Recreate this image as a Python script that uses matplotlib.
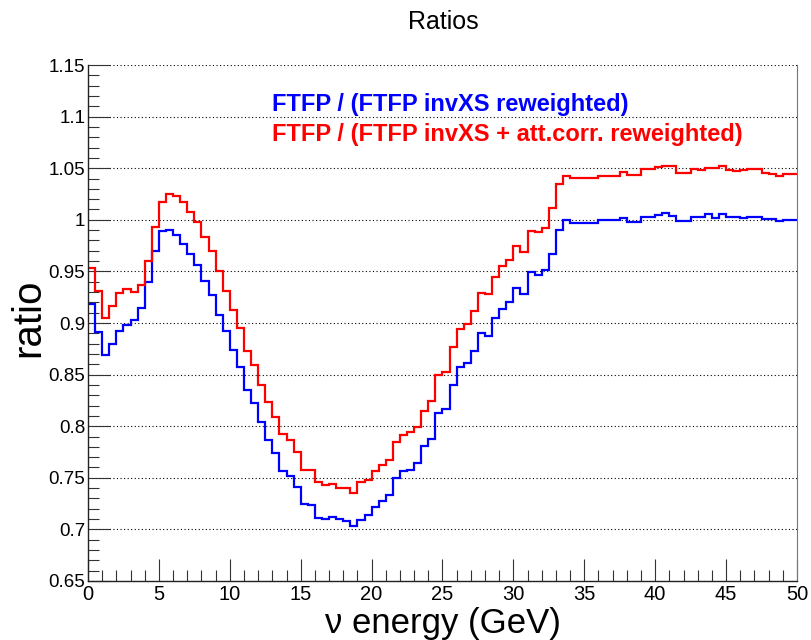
import numpy as np
import matplotlib
matplotlib.use("Agg")
import matplotlib.pyplot as plt
from matplotlib.ticker import MultipleLocator

plt.rcParams["font.family"] = ["Liberation Sans", "DejaVu Sans"]

# histogram binning: 100 bins of 0.5 GeV between 0 and 50
bin_edges = np.linspace(0.0, 50.0, 101)

# FTFP / (FTFP invXS reweighted)
ratio_invxs = [
    0.918, 0.891, 0.869, 0.880, 0.892, 0.898, 0.903, 0.915, 0.940, 0.970,
    0.989, 0.990, 0.985, 0.977, 0.967, 0.956, 0.941, 0.927, 0.908, 0.892,
    0.874, 0.857, 0.835, 0.822, 0.804, 0.787, 0.774, 0.757, 0.752, 0.741,
    0.725, 0.724, 0.711, 0.710, 0.712, 0.710, 0.708, 0.703, 0.709, 0.714,
    0.722, 0.728, 0.733, 0.750, 0.757, 0.758, 0.764, 0.781, 0.788, 0.813,
    0.817, 0.840, 0.857, 0.861, 0.873, 0.890, 0.887, 0.905, 0.914, 0.920,
    0.934, 0.928, 0.949, 0.947, 0.951, 0.967, 0.990, 1.000, 0.997, 0.997,
    0.997, 0.997, 1.000, 1.000, 1.000, 1.002, 0.998, 0.998, 1.003, 1.003,
    1.005, 1.007, 1.004, 0.999, 0.999, 1.003, 1.003, 1.006, 1.002, 1.006,
    1.003, 1.003, 1.002, 1.003, 1.003, 1.001, 1.001, 0.999, 1.000, 1.000,
]

# FTFP / (FTFP invXS + att.corr. reweighted)
ratio_attcorr = [
    0.953, 0.931, 0.905, 0.916, 0.929, 0.933, 0.930, 0.937, 0.960, 0.993,
    1.017, 1.025, 1.023, 1.017, 1.008, 0.998, 0.983, 0.970, 0.950, 0.931,
    0.913, 0.895, 0.873, 0.859, 0.840, 0.823, 0.809, 0.792, 0.787, 0.775,
    0.758, 0.758, 0.746, 0.743, 0.744, 0.740, 0.740, 0.735, 0.746, 0.748,
    0.757, 0.762, 0.767, 0.785, 0.791, 0.794, 0.799, 0.815, 0.824, 0.850,
    0.853, 0.877, 0.894, 0.899, 0.912, 0.929, 0.928, 0.945, 0.955, 0.961,
    0.975, 0.969, 0.989, 0.988, 0.992, 1.011, 1.035, 1.042, 1.041, 1.041,
    1.041, 1.041, 1.042, 1.042, 1.042, 1.046, 1.043, 1.043, 1.049, 1.049,
    1.051, 1.052, 1.052, 1.045, 1.045, 1.049, 1.048, 1.050, 1.050, 1.052,
    1.048, 1.047, 1.048, 1.049, 1.049, 1.045, 1.044, 1.042, 1.044, 1.044,
]

label_invxs = "FTFP / (FTFP invXS reweighted)"
label_attcorr = "FTFP / (FTFP invXS + att.corr. reweighted)"

fig = plt.figure(figsize=(8.12, 6.4), dpi=100)
ax = fig.add_axes([0.1084, 0.0922, 0.8731, 0.8062])

ax.stairs(ratio_invxs, bin_edges, baseline=None, color="#0000ff", lw=1.6)
ax.stairs(ratio_attcorr, bin_edges, baseline=None, color="#ff0000", lw=1.6)

ax.set_xlim(0, 50)
ax.set_ylim(0.65, 1.15)

# ROOT-like axes: inward ticks, horizontal dotted grid
ax.xaxis.set_major_locator(MultipleLocator(5))
ax.xaxis.set_minor_locator(MultipleLocator(1))
ax.yaxis.set_major_locator(MultipleLocator(0.05))
ax.yaxis.set_minor_locator(MultipleLocator(0.01))
ax.tick_params(which="both", direction="in", top=False, right=False, width=0.8, color="#333333")
ax.tick_params(which="major", length=15.5)
ax.tick_params(which="minor", length=7.8)
ax.tick_params(axis="y", labelsize=13.5, pad=2)
ax.tick_params(axis="x", labelsize=14.5, pad=3)
ax.yaxis.set_major_formatter(plt.FuncFormatter(lambda v, _: f"{v:.2f}".rstrip("0").rstrip(".")))

ax.yaxis.grid(True, which="major", linestyle=(0, (1, 2.2)), color="black", lw=0.8)
ax.set_axisbelow(True)

ax.spines["top"].set_visible(False)
for side in ("left", "bottom"):
    ax.spines[side].set_color("#222222")
    ax.spines[side].set_linewidth(1.0)
ax.spines["right"].set_color("#777777")
ax.spines["right"].set_linewidth(0.8)

ax.text(0.26, 0.924, label_invxs, transform=ax.transAxes, color="#0000ff",
        fontsize=17, fontweight="bold", ha="left", va="center")
ax.text(0.26, 0.866, label_attcorr, transform=ax.transAxes, color="#ff0000",
        fontsize=17, fontweight="bold", ha="left", va="center")

fig.text(443 / 812, 1 - 22 / 640, "Ratios", fontsize=18, ha="center", va="center")
fig.text(28 / 812, 1 - 318 / 640, "ratio", fontsize=29, rotation=90, ha="center", va="center")
fig.text(443 / 812, 1 - 624 / 640, "ν energy (GeV)", fontsize=25, ha="center", va="center")

fig.savefig("out.png", dpi=100)
plt.close(fig)
